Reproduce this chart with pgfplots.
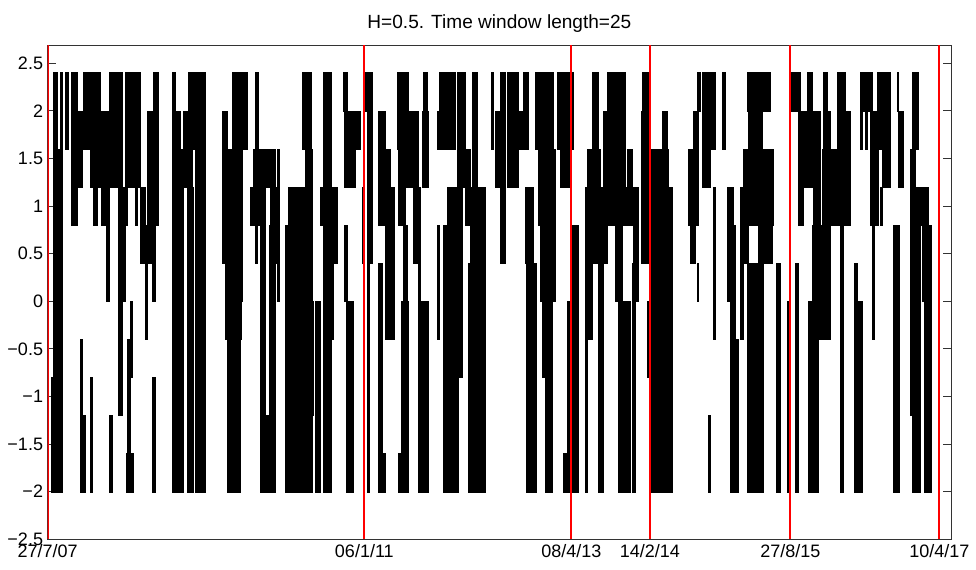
\documentclass[border=0pt]{standalone}
\usepackage{pgfplots}
\usepackage{pgfplotstable}
\pgfplotsset{compat=1.18}
\usepackage{fontspec}
\setmainfont{Liberation Sans}

% Each row: a black region covered by the series (x from x1 to x2, values lo..hi)
\pgfplotstableread{
x1 x2 lo hi
51 55.5 -2 -0.8
53 57 -2 2.4
56.5 62.5 -2 1.6
60 62.5 1.6 2.4
65.5 68.5 1.6 2.4
71.5 77 0.8 2.4
77 82.5 1.2 2
80 82.5 -2 -0.4
82.5 85.5 -2 -1.2
83 90 1.6 2.4
90 100 1.2 2.4
90 92.5 -2 -0.8
93.3 96.7 0.8 1.2
100 109 1.2 2
101.5 106.5 0.8 1.2
106.5 109 0 1.2
109 111.7 -2 -1.2
109 117.7 1.2 2.4
117.7 121.7 -1.2 2.4
121.7 125 0 1.2
125 127.3 0.8 2.4
126 133.3 -2 -1.6
127.3 130 -1.6 -0.4
127.3 140 1.2 2.4
130 132.3 -0.8 0
135 137.3 0.8 1.2
140 145 0.4 1.2
145 147.3 -0.4 0.8
146.7 151.7 0.4 2
151.7 155 0 0.8
151.7 155 -2 -0.8
153 158.3 0.8 2.4
171.7 183.3 -2 1.2
172.3 175 1.2 2.4
175 183.3 1.2 1.6
176 180 1.6 2
183.3 186.7 1.2 2
186.7 193 -2 1.2
187.7 205 1.6 2.4
188 191.7 1.2 1.6
195 205 -2 1.6
221.7 226.7 0.4 2
225 241 -0.4 0.4
226.7 240 -2 -0.4
226.7 232.3 0.4 1.6
232.3 242.3 0 2.4
243.3 246.7 1.6 2.4
250 265 0.8 1.2
253.3 275 1.2 1.6
255 258.3 1.6 2.4
255 256.7 0.4 0.8
260 265 -2 0.8
265 269.3 -2 -1.2
269.3 275 -2 0.8
270 279.3 0.4 1.2
270 274 -2 0.4
272.7 274 1.2 1.6
277.3 279.3 0 1.6
285 288.3 -2 0.8
288.3 311.7 -2 1.2
302.3 310.7 1.6 2.4
305 311.7 1.2 1.6
311.7 313.3 -1.2 0
315 320 -2 0
320 322.7 0.8 1.2
322.7 331 -2 2.4
331 336.7 0.4 1.2
331 333.3 -0.4 0.4
342.7 346.7 2 2.4
344 350 1.2 2
345 360 1.6 2
348.3 355 1.2 1.6
344 346.7 0 0.8
346 352.7 -2 0
361.7 364 0.4 1.2
365 371.7 2 2.4
366.7 371.7 0.4 2
366.7 369.3 -2 0.4
378.3 385 0.8 2
385 390 -0.4 1.6
378.3 381.7 -2 0.4
381.7 385 -2 -1.6
388.3 394.3 -0.4 1.2
396.7 408.3 1.6 2.4
398.3 405 0.8 1.6
403.3 406.7 -2 0.8
398.3 401.7 -2 -1.6
401 407.7 -2 0
405 418.3 1.2 2
413.3 418.3 0.4 1.2
418.3 428.3 -2 0
418.3 420 0 1.2
423.3 427.3 1.6 2.4
421.7 428.3 1.2 2
436.7 443.3 1.6 2
436.7 439 -0.4 0.8
439 455 1.6 2.4
443.3 458.3 -2 0.8
446.7 461.7 -0.8 1.2
457 465 1.2 2.4
465 470 0.8 1.6
470 485 0.4 1.2
468.3 485 -2 0.4
471.7 476.7 1.2 2.4
491 493.3 1.6 2.4
495 500 1.2 2
500 505 0.4 2.4
506.7 518.3 1.2 2.4
518.3 521.7 1.6 2
523.3 528.3 1.6 2.4
525 533.3 0.4 1.2
526 536 -2 0.4
535 553.3 1.6 2.4
538.3 555 0.8 1.6
540 555 0 0.8
541.7 551.7 -0.8 0
545 551.7 -2 -0.8
556.7 573.3 1.6 2.4
560 570 1.2 1.6
571.7 578.3 -2 0.8
566.7 571.7 -2 0
563.3 571.7 -2 -1.6
585 591.7 -0.4 1.2
585 587.3 -2 -0.4
587.3 600 1.2 1.6
591.7 598.3 1.6 2.4
591.7 606.7 0.4 1.2
598.3 603.3 -2 0.4
603.3 610 1.2 2
606.7 620 0.8 2.4
615 620 0 0.8
615 625 1.2 2.4
615 621.7 0 1.2
618.3 630 -2 0
620 630 0.8 1.2
626.7 631.7 0.8 1.6
631.7 635 -2 0.4
633.3 638.3 0 1.2
641.7 648.3 2 2.4
640.7 648.3 0.4 2
646.7 651.7 -0.8 0
650 671.7 -2 1.2
648.3 668.3 1.2 1.6
661.7 666.7 1.6 2
688.3 698.3 0.8 1.6
690 695 0.4 0.8
693 698.3 1.6 2
696.7 700 2 2.4
696.7 698.3 0 0.4
701.7 715 1.6 2.4
701.7 710 1.2 1.6
713.3 715 -0.4 1.2
707.7 710 -2 -1.2
721.7 725 1.6 2.4
726.7 731.7 0 1.2
730 735 -2 0.8
730 733.3 -0.4 1.2
731.7 738.3 -2 -0.4
740 743.3 -0.4 1.2
740 748.3 0.4 1.2
743.3 748.3 1.2 1.6
746.7 770 2 2.4
748.3 761.7 0.8 2
761.7 773.3 0.8 1.6
758 771.7 0.4 0.8
746.7 763.3 -2 0.4
776 780 -2 0.4
786.7 790 -2 0
789.3 800 2 2.4
795 798.3 -2 0.4
798.3 803.3 0.8 2
803.3 811.7 1.2 2
806.7 811.7 2 2.4
808.3 818.3 -2 0
811.7 830 -0.4 0.8
813.3 820 0.8 2
823.3 826.7 1.6 2.4
821.7 830 0.4 1.6
828 830 1.6 2
836.7 845 1.2 2.4
830 850 0.8 1.6
840 843.3 -2 0.8
845 850 0.8 2
854.3 856.7 -2 0.4
856.7 862.3 -2 0
860 871.7 2 2.4
860 862 1.6 2
865 867 1.6 2
870 878.3 0.8 2
871.7 874.3 -0.4 0.8
876.7 890 1.6 2.4
881.7 890 1.2 1.6
880 882.3 0.8 1.2
896.7 898.3 2 2.4
898.3 903.3 1.2 2
893.3 899 -2 0.8
911.7 918.3 1.6 2.4
910 915 1.2 1.6
910 928.3 0.8 1.2
910 920 -1.2 0.8
911.7 920 -2 -1.2
921.7 931 0 0.8
924.3 931 -2 0
}\blocks

\begin{document}
\begin{tikzpicture}
\begin{axis}[
  at={(0pt,0pt)}, anchor=south west,
  scale only axis, width=677.5pt, height=370.7pt,
  xmin=47.7, xmax=951, ymin=-2.5, ymax=2.69,
  xtick={47.7,364.3,571.3,649.8,790.4,939.3},
  xticklabels={27/7/07,06/1/11,08/4/13,14/2/14,27/8/15,10/4/17},
  ytick={-2.5,-2,-1.5,-1,-0.5,0,0.5,1,1.5,2,2.5},
  yticklabels={−2.5,−2,−1.5,−1,−0.5,0,0.5,1,1.5,2,2.5},
  tick pos=both, tick align=inside,
  major tick length=6pt,
  axis line style={line width=0.75pt, black!80},
  every tick/.style={black!80, line width=0.6pt},
  tick label style={font=\fontsize{13.5}{15}\selectfont},
  title={H=0.5. Time window length=25},
  title style={font=\fontsize{14.3}{16}\selectfont},
]
\pgfplotstablegetrowsof{\blocks}
\pgfmathtruncatemacro\lastrow{\pgfplotsretval-1}
\pgfplotsforeachungrouped \rowi in {0,...,\lastrow}{%
  \pgfplotstablegetelem{\rowi}{x1}\of\blocks\let\xa\pgfplotsretval
  \pgfplotstablegetelem{\rowi}{x2}\of\blocks\let\xb\pgfplotsretval
  \pgfplotstablegetelem{\rowi}{lo}\of\blocks\let\ya\pgfplotsretval
  \pgfplotstablegetelem{\rowi}{hi}\of\blocks\let\yb\pgfplotsretval
  \edef\temp{\noexpand\addplot[fill=black, draw=black, line width=0.3pt, forget plot] coordinates {(\xa,\ya) (\xb,\ya) (\xb,\yb) (\xa,\yb)} -- cycle;}%
  \temp
}
\addplot[red, line width=1.5pt, forget plot] coordinates {(47.7,-2.5) (47.7,2.69)};
\addplot[red, line width=1.5pt, forget plot] coordinates {(364.3,-2.5) (364.3,2.69)};
\addplot[red, line width=1.5pt, forget plot] coordinates {(571.3,-2.5) (571.3,2.69)};
\addplot[red, line width=1.5pt, forget plot] coordinates {(649.8,-2.5) (649.8,2.69)};
\addplot[red, line width=1.5pt, forget plot] coordinates {(790.4,-2.5) (790.4,2.69)};
\addplot[red, line width=1.5pt, forget plot] coordinates {(939.0,-2.5) (939.0,2.69)};
\end{axis}
\pgfresetboundingbox
\path[use as bounding box] (-35.8pt,-23.0pt) rectangle (696.2pt,404.5pt);
\end{tikzpicture}
\end{document}
